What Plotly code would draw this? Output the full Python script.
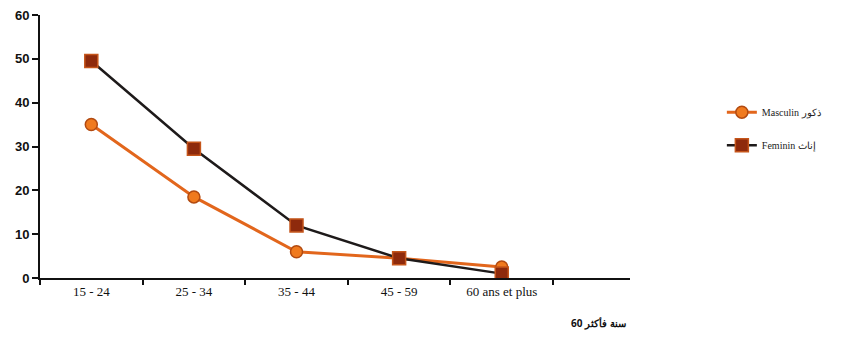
import plotly.graph_objects as go

categories = ["15 - 24", "25 - 34", "35 - 44", "45 - 59", "60 ans et plus"]
masculin = [35, 18.5, 6, 4.5, 2.5]
feminin = [49.5, 29.5, 12, 4.5, 1]
y_ticks = [0, 10, 20, 30, 40, 50, 60]
series_names = ["Masculin ذكور", "Feminin إناث"]
sub_label = "60 سنة فأكثر"

fig = go.Figure()
fig.add_trace(go.Scatter(
    x=categories, y=masculin, name=series_names[0], mode="lines+markers",
    legendgroup="m",
    line=dict(color="#E2661C", width=3),
    marker=dict(symbol="circle", size=12, color="#F07A1E",
                line=dict(color="#B24A10", width=1.5)),
))
fig.add_trace(go.Scatter(
    x=categories, y=feminin, name=series_names[1], mode="lines+markers",
    legendgroup="f",
    line=dict(color="#1E1A1A", width=2.5),
    marker=dict(symbol="square", size=13, color="#8E2A0C",
                line=dict(color="#C5551A", width=1.5)),
))

fig.update_layout(
    width=832, height=326,
    margin=dict(l=32, r=210, t=7, b=56, autoexpand=False),
    paper_bgcolor="white", plot_bgcolor="white",
    font=dict(family="Liberation Serif", size=12, color="#111"),
    showlegend=True,
    legend=dict(xref="container", yref="container", x=0.858, y=0.725,
                xanchor="left", yanchor="top",
                font=dict(family="Liberation Serif", size=10, color="#222"),
                itemwidth=30, tracegroupgap=14, bgcolor="rgba(0,0,0,0)"),
    xaxis=dict(
        type="category", range=[-0.5, 5.25],
        showline=True, linecolor="#111", linewidth=2,
        ticks="outside", ticklen=5, tickcolor="#111", tickwidth=1.5,
        tickson="boundaries", showgrid=False, zeroline=False,
        tickfont=dict(family="Liberation Serif", size=13, color="#111"),
    ),
    yaxis=dict(
        range=[0, 60], tickvals=y_ticks,
        showline=True, linecolor="#111", linewidth=2,
        ticks="outside", ticklen=6, tickcolor="#111", tickwidth=1.5,
        showgrid=False, zeroline=False, ticklabeloverflow="allow",
        tickfont=dict(family="Liberation Sans", size=13, color="#111", weight="bold"),
    ),
)

fig.add_annotation(
    text=sub_label, xref="paper", yref="paper", x=0.947, y=-0.135,
    xanchor="center", yanchor="top", showarrow=False,
    font=dict(family="Noto Sans", size=10, color="#111", weight="bold"),
)

fig.write_html("out.html")
